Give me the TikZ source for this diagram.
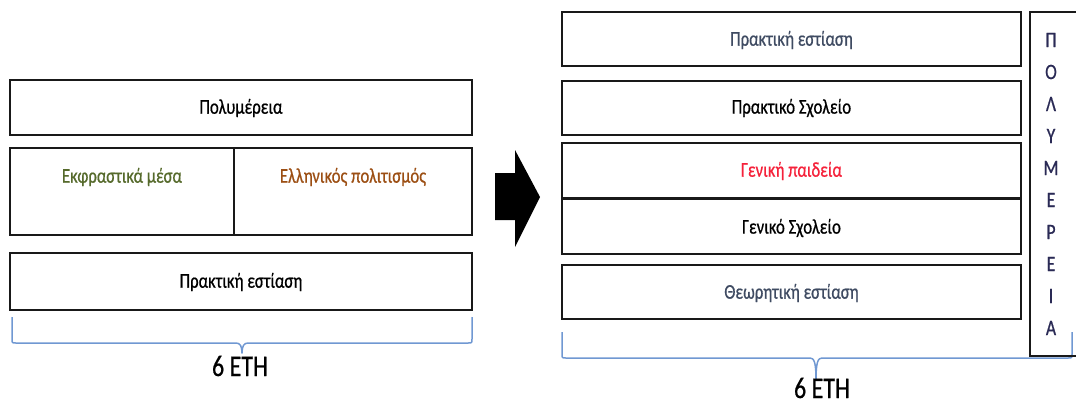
\documentclass[tikz,border=0pt]{standalone}
\usepackage{fontspec}
\setmainfont{Carlito}[FakeStretch=0.8,FakeBold=0.6]
\usetikzlibrary{positioning}
\definecolor{bracecol}{HTML}{7098D2}
\definecolor{olivetxt}{HTML}{566A2C}
\definecolor{browntxt}{HTML}{9C4F14}
\definecolor{redtxt}{HTML}{F5213A}
\definecolor{slatetxt}{HTML}{3F4B62}
\definecolor{navytxt}{HTML}{2A2A55}
\tikzset{
  x=1pt,y=-1pt,
  blk/.style={draw=black!90,line width=1.8pt,rectangle,inner sep=0pt,outer sep=0pt},
  lbl/.style={inner sep=0pt,font=\fontsize{21}{24}\selectfont},
  big/.style={inner sep=0pt,font=\fontsize{30}{34}\selectfont},
  vlet/.style={inner sep=0pt,text=navytxt,font=\fontsize{22}{24}\selectfont},
  bracestyle/.style={draw=bracecol,line width=1.5pt,line join=round}
}
\begin{document}
\begin{tikzpicture}
\useasboundingbox (0,0) rectangle (1076,405);
\clip (0,0) rectangle (1076,405);
% ---------- left column ----------
\node[blk,minimum width=462pt,minimum height=55pt] (poly) at (241,107.5) {};
\node[lbl] (polyt) at (241,108) {Πολυμέρεια};
\node[blk,minimum width=224pt,minimum height=87pt] (ekf) at (122,191.5) {};
\node[blk,minimum width=238pt,minimum height=87pt] (ell) at (353,191.5) {};
\node[lbl,text=olivetxt] (ekft) at (122,177) {Εκφραστικά μέσα};
\node[lbl,text=browntxt] (ellt) at (353,177) {Ελληνικός πολιτισμός};
\node[blk,minimum width=462pt,minimum height=57pt] (prak) at (241,281.5) {};
\node[lbl] (prakt) at (241,282) {Πρακτική εστίαση};
% left brace
\coordinate (lbA) at (12,317);
\coordinate (lbB) at (472,317);
\coordinate (lbT) at (242,353);
\draw[bracestyle] (lbA) -- (12,339) .. controls (12,343) .. (16,343) -- (236,343)
  .. controls (240,343) and (242,346) .. (lbT)
  .. controls (242,346) and (244,343) .. (248,343) -- (468,343)
  .. controls (472,343) .. (472,339) -- (lbB);
\node[big] (leth) at (240,366) {6 ΕΤΗ};
% ---------- arrow ----------
\coordinate (a1) at (495,173);
\coordinate (a2) at (515,173);
\coordinate (a3) at (515,150);
\coordinate (a4) at (540,197);
\coordinate (a5) at (515,247);
\coordinate (a6) at (515,220);
\coordinate (a7) at (495,220);
\fill[black] (a1) -- (a2) -- (a3) -- (a4) -- (a5) -- (a6) -- (a7) -- cycle;
% ---------- right column ----------
\node[blk,minimum width=459pt,minimum height=54pt] (rA) at (791.5,39) {};
\node[lbl,text=slatetxt] (rAt) at (791.5,40) {Πρακτική εστίαση};
\node[blk,minimum width=459pt,minimum height=54pt] (rB) at (791.5,108) {};
\node[lbl] (rBt) at (791.5,108) {Πρακτικό Σχολείο};
\node[blk,minimum width=459pt,minimum height=55pt] (rC) at (791.5,170.5) {};
\node[lbl,text=redtxt] (rCt) at (791.5,171) {Γενική παιδεία};
\node[blk,minimum width=459pt,minimum height=55pt] (rD) at (791.5,226.5) {};
\node[lbl] (rDt) at (791.5,228) {Γενικό Σχολείο};
\node[blk,minimum width=459pt,minimum height=54pt] (rE) at (791.5,292) {};
\node[lbl,text=slatetxt] (rEt) at (791.5,293) {Θεωρητική εστίαση};
% right brace
\coordinate (rbA) at (562,332);
\coordinate (rbB) at (1072,332);
\coordinate (rbT) at (816,380);
\draw[bracestyle] (rbA) -- (562,354) .. controls (562,358) .. (566,358) -- (810,358)
  .. controls (814,358) and (816,362) .. (rbT)
  .. controls (816,362) and (818,358) .. (822,358) -- (1068,358)
  .. controls (1072,358) .. (1072,354) -- (rbB);
% vertical box
\node[blk,minimum width=60pt,minimum height=344pt] (vbox) at (1060,184) {};
\foreach \l [count=\i] in {Π,Ο,Λ,Υ,Μ,Ε,Ρ,Ε,Ι,Α}{
  \node[vlet] (v\i) at (1051,{8+32*\i}) {\l};
}
\node[big] (reth) at (822,388) {6 ΕΤΗ};
\end{tikzpicture}
\end{document}
